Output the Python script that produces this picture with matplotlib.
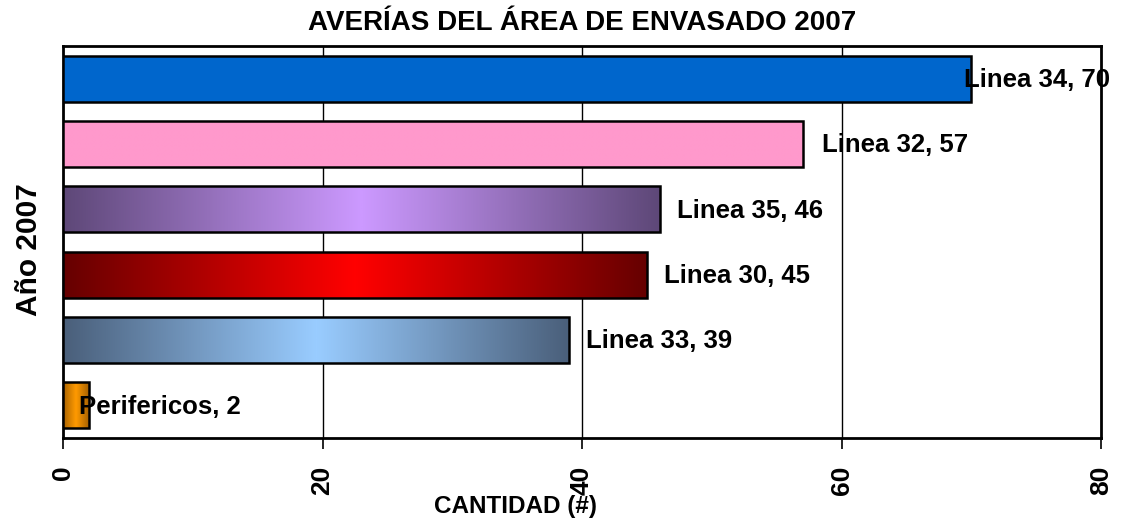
import matplotlib
matplotlib.use("Agg")
import matplotlib.pyplot as plt
import numpy as np
from matplotlib.colors import LinearSegmentedColormap

categories = ["Perifericos", "Linea 33", "Linea 30", "Linea 35", "Linea 32", "Linea 34"]
values = [2, 39, 45, 46, 57, 70]
xticks = [0, 20, 40, 60, 80]
title = "AVERÍAS DEL ÁREA DE ENVASADO 2007"
xlabel = "CANTIDAD (#)"
ylabel = "Año 2007"

# (edge color, center color) for each bar; equal -> solid
colors = [("#A86200", "#FF9A00"),
          ("#4A5F7A", "#99CCFF"),
          ("#660000", "#FF0000"),
          ("#5E4878", "#CC99FF"),
          ("#FF99CC", "#FF99CC"),
          ("#0066CC", "#0066CC")]
# label offsets in points (data-label placement like Excel)
label_offsets = [-7, 12, 12, 12, 14, -5]

plt.rcParams['font.family'] = ['Liberation Sans', 'DejaVu Sans']

fig = plt.figure(figsize=(11.23, 5.2), dpi=100)
ax = fig.add_axes([63/1123, 1-438/520, (1101-63)/1123, (438-46)/520])

ypos = np.arange(len(categories))
bars = ax.barh(ypos, values, height=0.7, facecolor='none', edgecolor='black', linewidth=1.8, zorder=4)

grad = np.concatenate([np.linspace(0, 1, 128), np.linspace(1, 0, 128)])[None, :]
for bar, (c0, c1) in zip(bars, colors):
    x0, y0, w, h = bar.get_x(), bar.get_y(), bar.get_width(), bar.get_height()
    cmap = LinearSegmentedColormap.from_list("g", [c0, c1])
    im = ax.imshow(grad, cmap=cmap, vmin=0, vmax=1, aspect='auto',
                   extent=[x0, x0 + w, y0, y0 + h], interpolation='bilinear', zorder=3)
    im.set_clip_path(bar)

for bar, cat, v, off in zip(bars, categories, values, label_offsets):
    ax.annotate(f"{cat}, {v}", xy=(v, bar.get_y() + bar.get_height()/2),
                xytext=(off, -1), textcoords='offset points', ha='left', va='center',
                fontsize=18.5, fontweight='bold', zorder=6, annotation_clip=False)

ax.set_xlim(0, 80)
ax.set_ylim(-0.5, len(categories) - 0.5)
ax.set_xticks(xticks)
ax.set_xticklabels([str(t) for t in xticks], rotation=90, fontsize=19, fontweight='bold')
ax.set_yticks([])
ax.tick_params(axis='x', direction='out', length=8, width=1.2, pad=12)
for x in xticks[1:-1]:
    ax.axvline(x, color='black', linewidth=1.0, zorder=1)
for s in ax.spines.values():
    s.set_linewidth(2)
ax.set_aspect('auto')

fig.text(582/1123, 1-23/520, title, ha='center', va='center', fontsize=20, fontweight='bold')
fig.text(516/1123, 1-507/520, xlabel, ha='center', va='center', fontsize=17.5, fontweight='bold')
fig.text(29/1123, 1-250/520, ylabel, ha='center', va='center', rotation=90, fontsize=21.5, fontweight='bold')

fig.savefig("out.png", dpi=100)
